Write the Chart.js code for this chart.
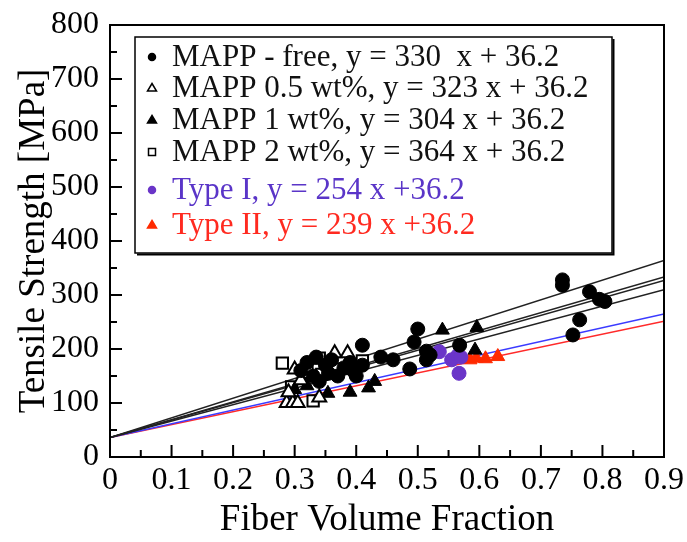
<!DOCTYPE html>
<html lang="en">
<head>
  <meta charset="UTF-8">
  <title>Tensile Strength vs Fiber Volume Fraction</title>
  <script src="https://cdn.jsdelivr.net/npm/chart.js"></script>
  <style>
    body {
      margin: 0;
      background: white;
    }
    #wrap {
      width: 687px;
      height: 542px;
    }
  </style>
</head>
<body>
  <div id="wrap"><canvas id="strengthChart" width="687" height="542"></canvas></div>

  <script>
    // tick labels
    const xTickLabels = ['0', '0.1', '0.2', '0.3', '0.4', '0.5', '0.6', '0.7', '0.8', '0.9'];
    const yTickLabels = ['0', '100', '200', '300', '400', '500', '600', '700', '800'];

    // series names and fitted slopes (from the legend), common intercept
    const seriesNames = ['MAPP - free, y = 330  x + 36.2', 'MAPP 0.5 wt%, y = 323 x + 36.2', 'MAPP 1 wt%, y = 304 x + 36.2',
                         'MAPP 2 wt%, y = 364 x + 36.2', 'Type I, y = 254 x +36.2', 'Type II, y = 239 x +36.2'];
    const slopes = [330, 323, 304, 364, 254, 239];
    const intercept = 36.2;

    const mappFreeX = [0.31, 0.32, 0.33, 0.335, 0.34, 0.35, 0.355, 0.36, 0.37, 0.38, 0.39, 0.395, 0.40, 0.41, 0.41, 0.44, 0.46, 0.487, 0.494, 0.50, 0.514, 0.514, 0.52, 0.568, 0.735, 0.735, 0.779, 0.795, 0.804, 0.763, 0.752];
    const mappFreeY = [160, 175, 150, 185, 140, 170, 155, 180, 150, 165, 175, 160, 150, 207, 170, 185, 180, 163, 213, 237, 196, 180, 189, 207, 328, 318, 306, 292, 288, 254, 226];

    const mapp05X = [0.287, 0.297, 0.305, 0.30, 0.29, 0.31, 0.365, 0.386, 0.34];
    const mapp05Y = [100, 100, 100, 162, 120, 142, 192, 192, 110];

    const mapp1X = [0.54, 0.596, 0.593, 0.39, 0.42, 0.43, 0.354, 0.30, 0.32];
    const mapp1Y = [235, 240, 198, 120, 128, 140, 118, 125, 132];

    const mapp2X = [0.28, 0.34, 0.32, 0.344, 0.37, 0.41, 0.295, 0.33];
    const mapp2Y = [174, 183, 157, 153, 163, 178, 130, 104];

    const type1X = [0.535, 0.555, 0.565, 0.57, 0.567];
    const type1Y = [195, 180, 188, 185, 155];

    const type2X = [0.585, 0.595, 0.61, 0.63];
    const type2Y = [180, 183, 182, 186];

    const xMin = 0, xMax = 0.9;
    const serif = '"Liberation Serif", "Times New Roman", serif';

    function pts(xs, ys) {
      return xs.map((x, i) => ({ x: x, y: ys[i] }));
    }
    function fitLine(k) {
      return [{ x: xMin, y: intercept }, { x: xMax, y: k * xMax + intercept }];
    }

    const lineColors = ['#222', '#222', '#222', '#222', '#3a3aff', '#ff2a2a'];
    const textColors = ['#111', '#111', '#111', '#111', '#5a35c8', '#ff2a20'];

    const markerSets = [
      { data: pts(mappFreeX, mappFreeY), pointStyle: 'circle', pointRadius: 7, backgroundColor: '#000', borderColor: '#000', borderWidth: 1 },
      { data: pts(mapp05X, mapp05Y), pointStyle: 'triangle', pointRadius: 8, backgroundColor: '#fff', borderColor: '#000', borderWidth: 2 },
      { data: pts(mapp1X, mapp1Y), pointStyle: 'triangle', pointRadius: 8, backgroundColor: '#000', borderColor: '#000', borderWidth: 1 },
      { data: pts(mapp2X, mapp2Y), pointStyle: 'rect', pointRadius: 8, backgroundColor: '#fff', borderColor: '#000', borderWidth: 2 },
      { data: pts(type1X, type1Y), pointStyle: 'circle', pointRadius: 7, backgroundColor: '#6a35c8', borderColor: '#6a35c8', borderWidth: 1 },
      { data: pts(type2X, type2Y), pointStyle: 'triangle', pointRadius: 8, backgroundColor: '#ff2a00', borderColor: '#ff2a00', borderWidth: 1 }
    ];

    const datasets = [];
    markerSets.forEach((m, i) => {
      datasets.push(Object.assign({ label: seriesNames[i], showLine: false }, m));
    });
    slopes.forEach((k, i) => {
      datasets.push({
        label: 'fit ' + i,
        data: fitLine(k),
        showLine: true,
        borderColor: lineColors[i],
        borderWidth: 1.5,
        pointRadius: 0
      });
    });

    // frame, inward ticks and the boxed legend
    const framePlugin = {
      id: 'frame',
      afterDatasetsDraw(chart) {
        const { ctx, chartArea: a, scales } = chart;
        ctx.save();
        ctx.strokeStyle = '#000';
        ctx.lineWidth = 2;
        ctx.strokeRect(a.left, a.top, a.right - a.left, a.bottom - a.top);

        ctx.beginPath();
        for (let v = 0; v <= 800; v += 50) {
          const py = scales.y.getPixelForValue(v);
          const len = v % 100 === 0 ? 12 : 7;
          ctx.moveTo(a.left, py);
          ctx.lineTo(a.left + len, py);
        }
        for (let j = 0; j <= 18; j++) {
          const px = scales.x.getPixelForValue(j * 0.05);
          const len = j % 2 === 0 ? 12 : 7;
          ctx.moveTo(px, a.bottom);
          ctx.lineTo(px, a.bottom - len);
        }
        ctx.stroke();

        // legend box with a slightly heavier right/bottom edge
        const bx = 135, by = 37, bw = 477, bh = 216;
        ctx.fillStyle = '#fff';
        ctx.fillRect(bx, by, bw, bh);
        ctx.lineWidth = 1.5;
        ctx.strokeRect(bx, by, bw, bh);
        ctx.lineWidth = 2;
        ctx.beginPath();
        ctx.moveTo(bx + bw + 1.5, by + 2);
        ctx.lineTo(bx + bw + 1.5, by + bh + 1.5);
        ctx.lineTo(bx + 2, by + bh + 1.5);
        ctx.stroke();

        const rowY = [57, 88, 120, 152, 190, 225];
        ctx.font = '31px ' + serif;
        ctx.textBaseline = 'middle';
        markerSets.forEach((m, i) => {
          const mx = 152, my = rowY[i];
          ctx.fillStyle = m.backgroundColor;
          ctx.strokeStyle = m.borderColor;
          ctx.lineWidth = 1.5;
          ctx.beginPath();
          if (m.pointStyle === 'circle') {
            ctx.arc(mx, my, 3.5, 0, Math.PI * 2);
          } else if (m.pointStyle === 'triangle') {
            ctx.moveTo(mx, my - 4.5);
            ctx.lineTo(mx + 4.5, my + 3);
            ctx.lineTo(mx - 4.5, my + 3);
            ctx.closePath();
          } else {
            ctx.rect(mx - 3.5, my - 3.5, 7, 7);
          }
          ctx.fill();
          ctx.stroke();
          ctx.fillStyle = textColors[i];
          ctx.fillText(seriesNames[i], 172, my + 1);
        });
        ctx.restore();
      }
    };

    const ctx = document.getElementById('strengthChart').getContext('2d');
    const strengthChart = new Chart(ctx, {
      type: 'scatter',
      data: { datasets: datasets },
      options: {
        responsive: false,
        animation: false,
        layout: { padding: { top: 25, right: 23, left: 0, bottom: 0 } },
        plugins: {
          legend: { display: false },
          tooltip: { enabled: false }
        },
        scales: {
          x: {
            type: 'linear',
            min: xMin,
            max: xMax,
            afterFit(scale) { scale.height = 85; },
            afterBuildTicks(scale) {
              scale.ticks = xTickLabels.map(t => ({ value: parseFloat(t) }));
            },
            ticks: {
              color: '#000',
              padding: -4,
              font: { family: serif, size: 32 },
              callback: (v, i) => xTickLabels[i]
            },
            grid: { display: false },
            border: { display: false },
            title: {
              display: true,
              text: 'Fiber Volume Fraction',
              color: '#000',
              font: { family: serif, size: 37 },
              padding: { top: 0, bottom: 0 }
            }
          },
          y: {
            type: 'linear',
            min: 0,
            max: 800,
            afterFit(scale) { scale.width = 110; },
            afterBuildTicks(scale) {
              scale.ticks = yTickLabels.map(t => ({ value: parseFloat(t) }));
            },
            ticks: {
              color: '#000',
              padding: 3,
              font: { family: serif, size: 32 },
              callback: (v, i) => yTickLabels[i]
            },
            grid: { display: false },
            border: { display: false },
            title: {
              display: true,
              text: 'Tensile Strength [MPa]',
              color: '#000',
              font: { family: serif, size: 37 },
              padding: { top: 12, bottom: 0 }
            }
          }
        }
      },
      plugins: [framePlugin]
    });
  </script>
</body>
</html>
